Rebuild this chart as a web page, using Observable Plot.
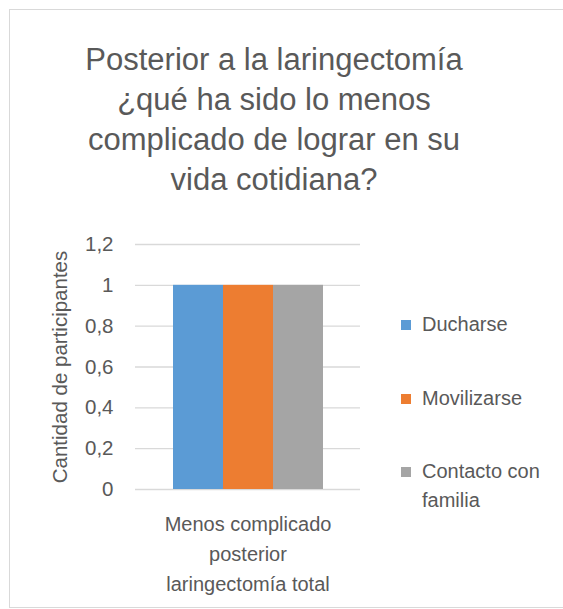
<!DOCTYPE html>
<html>
<head>
<meta charset="utf-8">
<script src="https://cdn.jsdelivr.net/npm/d3@7"></script>
<script src="https://cdn.jsdelivr.net/npm/@observablehq/plot@0.6"></script>
<style>
  html, body { margin: 0; padding: 0; background: #fff; }
  body { width: 563px; height: 609px; position: relative; overflow: hidden; font-family: "Liberation Sans", Arial, sans-serif; color: #595959; }
  #frame { position: absolute; left: 9px; top: 9px; width: 600px; height: 599px; border: 1px solid #d9d9d9; box-sizing: border-box; }
  #title { position: absolute; left: 0; width: 548px; top: 40px; text-align: center; font-size: 31px; line-height: 40px; }
  #chart { position: absolute; left: 0; top: 220px; }
  #legend { position: absolute; left: 401px; top: 0; font-size: 20px; }
  .item { position: absolute; left: 0; white-space: nowrap; }
  .sw { position: absolute; left: 0; width: 10px; height: 10px; }
  .lab { position: absolute; left: 21px; line-height: 29px; }
</style>
</head>
<body>
<div id="frame"></div>
<div id="title"></div>
<div id="chart"></div>
<div id="legend"></div>
<script>
const titleLines = ["Posterior a la laringectomía", "¿qué ha sido lo menos", "complicado de lograr en su", "vida cotidiana?"];
const category = "Menos complicado\nposterior\nlaringectomía total";
const series = ["Ducharse", "Movilizarse", "Contacto con familia"];
const values = [1, 1, 1];
const colors = ["#5b9bd5", "#ed7d31", "#a5a5a5"];
const yTicks = [0, 0.2, 0.4, 0.6, 0.8, 1, 1.2];
const yLabel = "Cantidad de participantes";
const legendLines = [["Ducharse"], ["Movilizarse"], ["Contacto con", "familia"]];

document.getElementById("title").innerHTML = titleLines.join("<br>");

const data = series.map((s, i) => ({category, series: s, value: values[i]}));
const fmt = d => String(d).replace(".", ",");

const chart = Plot.plot({
  width: 380,
  height: 385,
  marginLeft: 135,
  marginRight: 20,
  marginTop: 24,
  marginBottom: 116,
  style: {fontFamily: "Liberation Sans, Arial, sans-serif", fontSize: "20px", color: "#595959", background: "transparent"},
  fx: {domain: [category], padding: 0, axis: null},
  x: {domain: series, paddingInner: 0, paddingOuter: 0.75, axis: null},
  y: {domain: [0, 1.2], axis: null},
  color: {domain: series, range: colors},
  marks: [
    Plot.gridY(yTicks, {stroke: "#d9d9d9", strokeOpacity: 1, strokeWidth: 1.3}),
    Plot.axisY({ticks: yTicks, tickFormat: fmt, tickSize: 0, tickPadding: 22, label: yLabel, labelAnchor: "center", labelArrow: "none", labelOffset: 83, fontSize: 20.5}),
    Plot.axisFx({anchor: "bottom", tickSize: 0, tickPadding: 20, label: null, lineHeight: 1.5, fontSize: 20}),
    Plot.barY(data, {fx: "category", x: "series", y: "value", fill: "series"})
  ]
});
document.getElementById("chart").appendChild(chart);

const legendTops = [310, 384, 457];
const legend = document.getElementById("legend");
legendLines.forEach((lines, i) => {
  const item = document.createElement("div");
  item.className = "item";
  item.style.top = legendTops[i] + "px";
  const sw = document.createElement("div");
  sw.className = "sw";
  sw.style.background = colors[i];
  sw.style.top = "10px";
  const lab = document.createElement("div");
  lab.className = "lab";
  lab.innerHTML = lines.join("<br>");
  item.appendChild(sw);
  item.appendChild(lab);
  legend.appendChild(item);
});
</script>
</body>
</html>
